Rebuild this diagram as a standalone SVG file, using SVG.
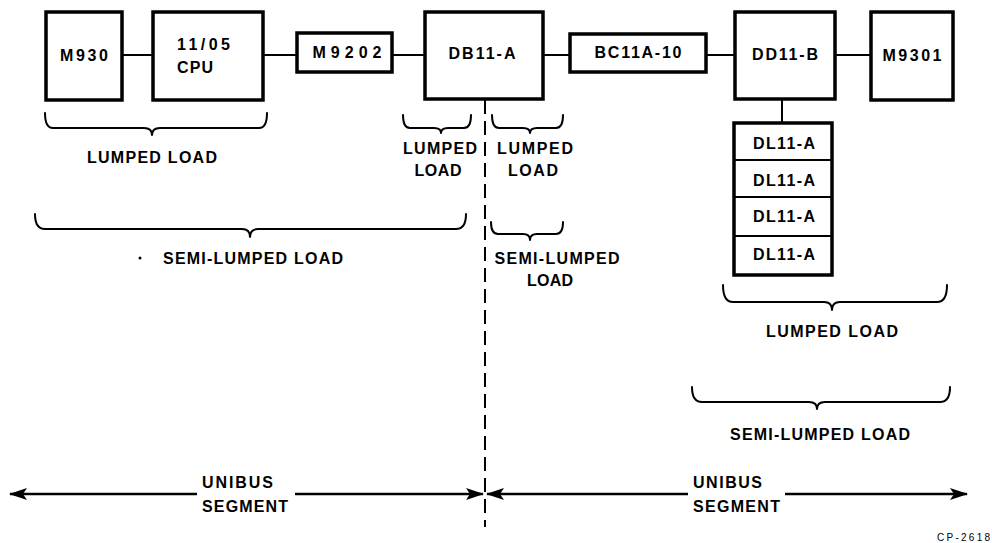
<svg xmlns="http://www.w3.org/2000/svg" width="992" height="543" viewBox="0 0 992 543">
<style>
.box{fill:#fff;stroke:#000;stroke-width:3.5}
.div{stroke:#000;stroke-width:2}
.ln{stroke:#000;stroke-width:2;fill:none}
.br{stroke:#000;stroke-width:2;fill:none;stroke-linecap:round;stroke-linejoin:round}
.bus{stroke:#000;stroke-width:2.5;fill:none}
.dash{stroke:#000;stroke-width:2;stroke-dasharray:14 7;fill:none}
text{font-family:"Liberation Sans",Arial,sans-serif;font-weight:bold;font-size:16px;fill:#000}
.c{text-anchor:middle}
.sm{font-size:10px;font-weight:normal}
</style>
<defs>
<marker id="ah" viewBox="0 0 18 14" refX="17" refY="7" markerWidth="18" markerHeight="14" markerUnits="userSpaceOnUse" orient="auto-start-reverse">
<path d="M0,1 L18,7 L0,13 L4,7 Z" fill="#000"/>
</marker>
</defs>
<rect width="992" height="543" fill="#fff"/>

<g id="connectors">
<line class="ln" x1="122" y1="55" x2="153" y2="55"/>
<line class="ln" x1="263" y1="55" x2="297" y2="55"/>
<line class="ln" x1="392" y1="55" x2="425" y2="55"/>
<line class="ln" x1="543" y1="55" x2="570" y2="55"/>
<line class="ln" x1="706" y1="55" x2="735" y2="55"/>
<line class="ln" x1="835" y1="55" x2="871" y2="55"/>
<line class="ln" x1="782" y1="99" x2="782" y2="123"/>
<line class="dash" x1="485" y1="100" x2="485" y2="527"/>
<path class="bus" d="M14,494 L197,494 M295,494 L478,494" />
<line class="bus" x1="10" y1="494" x2="16" y2="494" marker-start="url(#ah)"/>
<line class="bus" x1="470" y1="494" x2="483" y2="494" marker-end="url(#ah)"/>
<path class="bus" d="M492,494 L688,494 M785,494 L962,494"/>
<line class="bus" x1="487" y1="494" x2="500" y2="494" marker-start="url(#ah)"/>
<line class="bus" x1="955" y1="494" x2="967" y2="494" marker-end="url(#ah)"/>
</g>

<g id="m930"><rect class="box" x="46" y="12" width="76" height="88"/><text class="c" x="84" y="61" textLength="48">M930</text></g>
<g id="cpu"><rect class="box" x="153" y="12" width="110" height="88"/><text x="177" y="50" textLength="53">11/05</text><text x="177" y="73" textLength="36">CPU</text></g>
<g id="m9202"><rect class="box" x="297" y="33" width="95" height="39"/><text class="c" x="347" y="58" textLength="69">M9202</text></g>
<g id="db11a"><rect class="box" x="425" y="12" width="118" height="87"/><text class="c" x="482" y="59" textLength="67">DB11-A</text></g>
<g id="bc11a"><rect class="box" x="570" y="34" width="136" height="38"/><text class="c" x="638" y="58" textLength="87">BC11A-10</text></g>
<g id="dd11b"><rect class="box" x="735" y="12" width="100" height="87"/><text class="c" x="785" y="60" textLength="66">DD11-B</text></g>
<g id="m9301"><rect class="box" x="871" y="12" width="82" height="88"/><text class="c" x="912" y="61" textLength="59">M9301</text></g>
<g id="dl11">
<rect class="box" x="734" y="123" width="98" height="152"/>
<line class="div" x1="734" y1="160" x2="832" y2="160"/>
<line class="div" x1="734" y1="197" x2="832" y2="197"/>
<line class="div" x1="734" y1="236" x2="832" y2="236"/>
<text class="c" x="784" y="149" textLength="62">DL11-A</text>
<text class="c" x="784" y="186" textLength="62">DL11-A</text>
<text class="c" x="784" y="222" textLength="62">DL11-A</text>
<text class="c" x="784" y="260" textLength="62">DL11-A</text>
</g>

<g id="braces">
<path class="br" d="M45,113 Q45,128 53,128 L144,128 Q152,128 152,135 Q152,128 160,128 L259,128 Q267,128 267,113"/>
<path class="br" d="M403,115 Q403,128 410,128 L434,128 Q441,128 441,133 Q441,128 448,128 L464,128 Q471,128 471,115"/>
<path class="br" d="M492,115 Q492,128 499,128 L523,128 Q530,128 530,133 Q530,128 537,128 L556,128 Q563,128 563,115"/>
<path class="br" d="M491,222 Q491,234 498,234 L523,234 Q530,234 530,240 Q530,234 537,234 L556,234 Q563,234 563,222"/>
<path class="br" d="M35,214 Q35,229 45,229 L242,229 Q250,229 250,237 Q250,229 258,229 L456,229 Q466,229 466,214"/>
<path class="br" d="M723,285 Q723,302 733,302 L824,302 Q832,302 832,310 Q832,302 840,302 L937,302 Q947,302 947,285"/>
<path class="br" d="M692,387 Q692,402 702,402 L809,402 Q817,402 817,409 Q817,402 825,402 L940,402 Q950,402 950,387"/>
</g>

<g id="labels">
<text class="c" x="152" y="163" textLength="130">LUMPED LOAD</text>
<text class="c" x="440" y="154" textLength="74">LUMPED</text>
<text class="c" x="438" y="176" textLength="47">LOAD</text>
<text class="c" x="535" y="154" textLength="76">LUMPED</text>
<text class="c" x="533" y="176" textLength="50">LOAD</text>
<text class="c" x="253" y="264" textLength="180">SEMI-LUMPED LOAD</text>
<text class="c" x="557" y="264" textLength="125">SEMI-LUMPED</text>
<text class="c" x="550" y="286" textLength="46">LOAD</text>
<text class="c" x="832" y="337" textLength="132">LUMPED LOAD</text>
<text class="c" x="820" y="440" textLength="180">SEMI-LUMPED LOAD</text>
<text x="202" y="488" textLength="71">UNIBUS</text>
<text x="202" y="512" textLength="86">SEGMENT</text>
<text x="693" y="488" textLength="69">UNIBUS</text>
<text x="693" y="512" textLength="87">SEGMENT</text>
<text class="sm" x="937" y="541" textLength="53">CP-2618</text>
<circle cx="140" cy="258" r="1.5" fill="#000"/>
</g>
</svg>
